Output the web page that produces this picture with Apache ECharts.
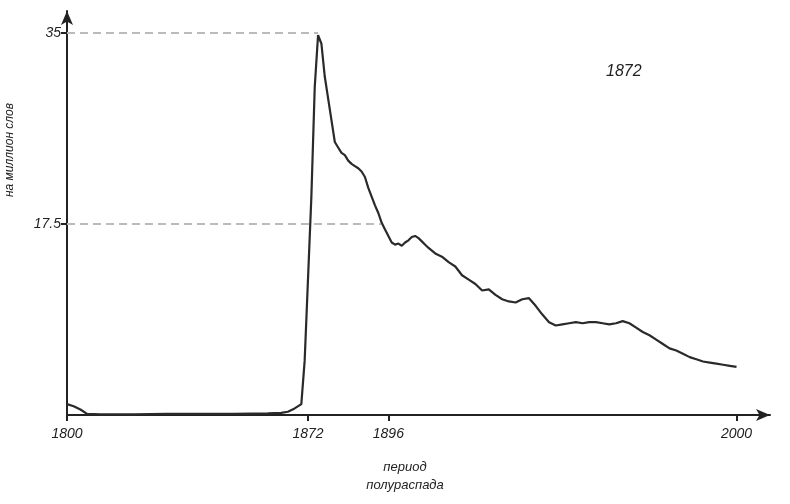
<!DOCTYPE html>
<html><head><meta charset="utf-8">
<script src="https://cdn.jsdelivr.net/npm/echarts@6/dist/echarts.min.js"></script>
<style>html,body{margin:0;background:#fff}#c{width:790px;height:504px}</style>
</head><body><div id="c"></div>
<script>
var years = [1800,1802,1804,1806,1810,1820,1830,1840,1850,1860,1864,1866,1868,1870,1871,1873,1874,1875,1876,1877,1878,1879,1880,1881,1882,1883,1884,1885,1886,1887,1888,1889,1890,1891,1892,1893,1894,1895,1896,1897,1898,1899,1900,1901,1902,1903,1904,1905,1906,1907,1908,1910,1912,1914,1916,1918,1920,1922,1924,1926,1928,1930,1932,1934,1936,1938,1940,1942,1944,1946,1948,1950,1952,1954,1956,1958,1960,1962,1964,1966,1968,1970,1972,1974,1976,1978,1980,1982,1984,1986,1988,1990,1992,1994,1996,1998,2000];
var values = [1.0,0.8,0.5,0.1,0.05,0.05,0.1,0.1,0.1,0.15,0.2,0.3,0.6,1.0,5,20,30,34.8,34,31,29,27,25,24.5,24,23.8,23.3,23,22.8,22.6,22.3,21.8,20.8,20,19.2,18.5,17.6,17,16.4,15.8,15.6,15.7,15.5,15.8,16,16.3,16.4,16.2,15.9,15.6,15.3,14.8,14.5,14,13.6,12.8,12.4,12,11.4,11.5,11.0,10.6,10.4,10.3,10.6,10.7,10,9.2,8.5,8.2,8.3,8.4,8.5,8.4,8.5,8.5,8.4,8.3,8.4,8.6,8.4,8.0,7.6,7.3,6.9,6.5,6.1,5.9,5.6,5.3,5.1,4.9,4.8,4.7,4.6,4.5,4.4];
var xTicks = [1800,1872,1896,2000];
var yTicks = [17.5,35];
var peakYear = 1875;

var font = 'Liberation Sans';
var chart = echarts.init(document.getElementById('c'));
chart.setOption({
  animation: false,
  grid: {left: 67, right: 20, top: 11, bottom: 89, containLabel: false, outerBoundsMode: 'none'},
  xAxis: {
    type: 'value', min: 1800, max: 2010,
    splitLine: {show: false},
    axisLine: {symbol: ['none','arrow'], symbolSize: [9,14], lineStyle: {color: '#222', width: 2}},
    axisTick: {customValues: xTicks, length: 6, lineStyle: {color: '#222', width: 2}},
    axisLabel: {customValues: xTicks, formatter: function (v) { return String(v); }, color: '#222', fontSize: 14, fontStyle: 'italic', fontFamily: font, margin: 12}
  },
  yAxis: {
    type: 'value', min: 0, max: 37,
    splitLine: {show: false},
    axisLine: {symbol: ['none','arrow'], symbolSize: [9,14], lineStyle: {color: '#222', width: 2}},
    axisTick: {customValues: yTicks, length: 6, lineStyle: {color: '#222', width: 2}},
    axisLabel: {customValues: yTicks, color: '#222', fontSize: 14, fontStyle: 'italic', fontFamily: font, margin: 6}
  },
  graphic: [
    {type: 'text', left: 606, top: 64, style: {text: '1872', fill: '#222', font: 'italic 16px Liberation Sans'}},
    {type: 'text', x: 405, y: 458, style: {text: 'период\nполураспада', fill: '#222', align: 'center', lineHeight: 18, font: 'italic 13px Liberation Sans'}},
    {type: 'text', x: 10, y: 150, rotation: Math.PI / 2, style: {text: 'на миллион слов', fill: '#222', align: 'center', verticalAlign: 'middle', font: 'italic 12px Liberation Sans'}}
  ],
  series: [{
    type: 'line', showSymbol: false,
    data: years.map(function (y, i) { return [y, values[i]]; }),
    lineStyle: {color: '#2a2a2a', width: 2.2},
    markLine: {
      silent: true, symbol: 'none', label: {show: false},
      lineStyle: {color: '#bbb', type: [8,5], width: 2},
      data: [
        [{coord: [1800, yTicks[1]]}, {coord: [peakYear, yTicks[1]]}],
        [{coord: [1800, yTicks[0]]}, {coord: [1893.8, yTicks[0]]}]
      ]
    }
  }]
});
</script></body></html>
